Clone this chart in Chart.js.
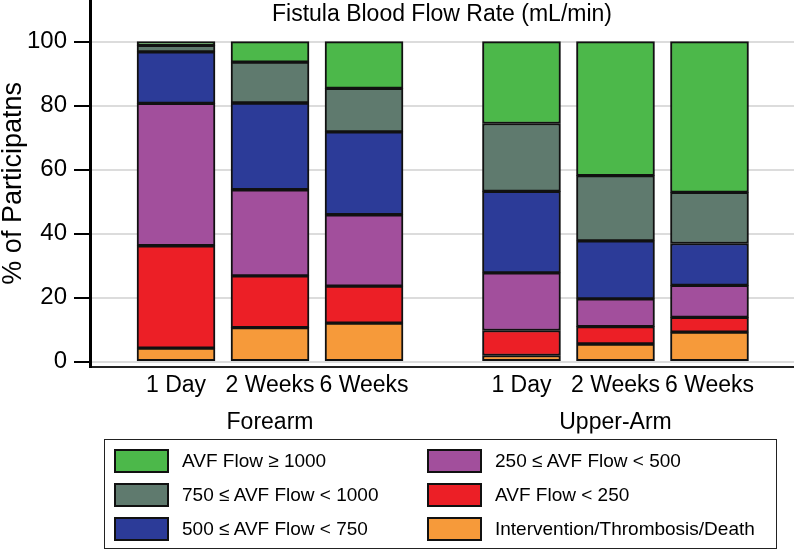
<!DOCTYPE html>
<html>
<head>
<meta charset="utf-8">
<script src="https://cdn.jsdelivr.net/npm/chart.js@4"></script>
<style>
  body { margin: 0; background: #fff; font-family: "Liberation Sans", Arial, Helvetica, sans-serif; }
  #wrap { position: relative; width: 794px; height: 552px; }
  #legend {
    position: absolute; left: 104px; top: 439px; width: 673px; height: 110px;
    box-sizing: border-box; border: 1.5px solid #222;
    display: grid; grid-auto-flow: column;
    grid-template-rows: repeat(3, 34px); grid-template-columns: 313px 340px;
    padding: 9px 0 0 9px;
  }
  .item { display: flex; align-items: center; height: 24px; font-size: 19px; color: #000; }
  .swatch { width: 55px; height: 24px; box-sizing: border-box; border: 2px solid #111; margin-right: 13px; }
</style>
</head>
<body>
<div id="wrap">
  <canvas id="chart" width="794" height="440"></canvas>
  <div id="legend"></div>
</div>
<script>
// categories
const times = ['1 Day', '2 Weeks', '6 Weeks'];
const sites = ['Forearm', 'Upper-Arm'];
const yTicks = [0, 20, 40, 60, 80, 100];

// % of participants, order: Forearm 1D,2W,6W then Upper-Arm 1D,2W,6W
const intervention = [4.2, 10.6, 12.0, 1.9, 5.5, 9.2];
const flowUnder250 = [32.0, 16.2, 11.6, 7.8, 5.4, 4.6];
const flow250to500 = [44.5, 26.9, 22.3, 18.0, 8.7, 10.0];
const flow500to750 = [16.1, 27.1, 25.9, 25.5, 18.1, 13.1];
const flow750to1000 = [2.0, 12.8, 13.6, 21.2, 20.4, 16.0];
const flowOver1000 = [1.2, 6.4, 14.6, 25.6, 41.9, 47.1];

// stack from bottom to top
const series = [
  { label: 'Intervention/Thrombosis/Death', data: intervention, color: '#f69a3a' },
  { label: 'AVF Flow < 250', data: flowUnder250, color: '#ec1f26' },
  { label: '250 \u2264 AVF Flow < 500', data: flow250to500, color: '#a24f9c' },
  { label: '500 \u2264 AVF Flow < 750', data: flow500to750, color: '#2c3b98' },
  { label: '750 \u2264 AVF Flow < 1000', data: flow750to1000, color: '#5f7a6e' },
  { label: 'AVF Flow \u2265 1000', data: flowOver1000, color: '#4cb84a' }
];

const groupGap = 0.675; // extra space between the two sites
const xPos = [];
sites.forEach((s, g) => {
  times.forEach((t, i) => xPos.push(g * (times.length + groupGap) + i));
});
const sitePos = sites.map((s, g) => g * (times.length + groupGap) + (times.length - 1) / 2);

const fontFam = '"Liberation Sans", Arial, Helvetica, sans-serif';

const titlePlugin = {
  id: 'innerTitle',
  afterDraw(chart) {
    const ctx = chart.ctx;
    const area = chart.chartArea;
    ctx.save();
    ctx.font = '23px ' + fontFam;
    ctx.fillStyle = '#000';
    ctx.textAlign = 'center';
    ctx.textBaseline = 'middle';
    ctx.fillText('Fistula Blood Flow Rate (mL/min)', (area.left + area.right) / 2, 15);
    ctx.restore();
  }
};

const ctx = document.getElementById('chart').getContext('2d');
new Chart(ctx, {
  type: 'bar',
  data: {
    datasets: series.map(s => ({
      label: s.label,
      data: s.data.map((v, i) => ({ x: xPos[i], y: v })),
      backgroundColor: s.color,
      borderColor: '#111',
      borderWidth: 2,
      borderSkipped: false,
      barThickness: 78
    }))
  },
  options: {
    responsive: false,
    animation: false,
    layout: { padding: { top: 0, right: 0, bottom: 6.5, left: 0 } },
    plugins: { legend: { display: false }, tooltip: { enabled: false } },
    scales: {
      x: {
        type: 'linear', stacked: true, offset: false,
        min: -0.915, max: 6.574,
        afterBuildTicks: s => { s.ticks = xPos.map(v => ({ value: v })); },
        afterFit: s => { s.height = 30.6; s.paddingBottom = 0; },
        grid: { display: false, drawTicks: false, offset: false },
        border: { display: true, color: '#222', width: 2 },
        ticks: {
          padding: 5, color: '#000', maxRotation: 0, autoSkip: false,
          font: { family: fontFam, size: 23 },
          callback: (v, i) => times[i % times.length]
        }
      },
      x2: {
        type: 'linear', position: 'bottom', offset: false,
        min: -0.915, max: 6.574,
        afterBuildTicks: s => { s.ticks = sitePos.map(v => ({ value: v })); },
        afterFit: s => { s.height = 36.2; s.paddingBottom = 0; },
        grid: { display: false, drawTicks: false },
        border: { display: false },
        ticks: {
          padding: 11.5, color: '#000', maxRotation: 0, autoSkip: false,
          font: { family: fontFam, size: 23 },
          callback: (v, i) => sites[i]
        }
      },
      y: {
        stacked: true, min: -1.6, max: 113,
        afterBuildTicks: s => { s.ticks = yTicks.map(v => ({ value: v })); },
        afterFit: s => { s.width = 90; s.paddingTop = 0; s.paddingBottom = 0; },
        grid: { color: '#dcdcdc', lineWidth: 2, tickColor: '#000', tickWidth: 2, tickLength: 16 },
        border: { display: true, color: '#000', width: 3 },
        ticks: {
          padding: 7, color: '#000',
          font: { family: fontFam, size: 24 },
          callback: v => v
        },
        title: {
          display: true, text: '% of Participatns', color: '#000', padding: 0,
          font: { family: fontFam, size: 27, lineHeight: 1 }
        }
      }
    }
  },
  plugins: [titlePlugin]
});

// legend: top of stack first, filled column by column
const legend = document.getElementById('legend');
series.slice().reverse().forEach(s => {
  const item = document.createElement('div');
  item.className = 'item';
  const sw = document.createElement('span');
  sw.className = 'swatch';
  sw.style.background = s.color;
  const txt = document.createElement('span');
  txt.textContent = s.label;
  item.appendChild(sw);
  item.appendChild(txt);
  legend.appendChild(item);
});
</script>
</body>
</html>
